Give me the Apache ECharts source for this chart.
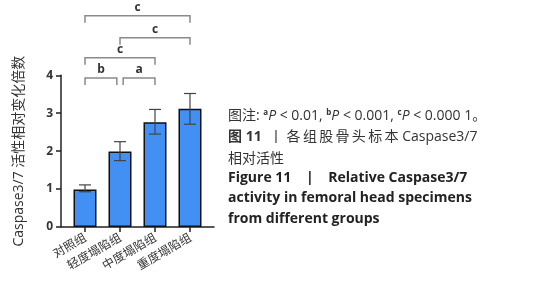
<!DOCTYPE html>
<html>
<head>
<meta charset="utf-8">
<script src="https://cdn.jsdelivr.net/npm/echarts@6/dist/echarts.min.js"></script>
<style>
  html, body { margin: 0; padding: 0; background: #fff; }
  #chart { width: 535px; height: 300px; }
</style>
</head>
<body>
<div id="chart"></div>
<script>
// groups and measured values
const categories = ["对照组", "轻度塌陷组", "中度塌陷组", "重度塌陷组"];
const positions = [1, 2, 3, 4];
const means = [0.99, 1.99, 2.76, 3.12];
const errLow = [0.93, 1.75, 2.45, 2.71];
const errHigh = [1.11, 2.25, 3.10, 3.52];

// significance brackets
const bracketFrom = [1, 2.09, 1, 2, 1];
const bracketTo = [1.91, 3, 3, 4, 4];
const bracketY = [3.93, 3.93, 4.46, 4.99, 5.57];
const bracketLabel = ["b", "a", "c", "c", "c"];

const chart = echarts.init(document.getElementById("chart"));

const axisColor = "#222";
const cjk = "'Noto Sans CJK SC', sans-serif";
const latin = "'Open Sans', 'Noto Sans CJK SC', sans-serif";
const thin = "\u2009";

const option = {
  animation: false,
  backgroundColor: "#fff",
  grid: { left: 61, right: 321, top: 75.3, bottom: 73 },
  xAxis: {
    type: "value",
    min: 0.314,
    max: 4.686,
    splitLine: { show: false },
    axisLine: { lineStyle: { color: axisColor, width: 1.5 } },
    axisTick: { customValues: positions, length: 5, lineStyle: { color: axisColor, width: 1.5 } },
    axisLabel: {
      customValues: positions,
      formatter: (v) => categories[Math.round(v) - 1] || "",
      rotate: 30,
      margin: 9,
      fontSize: 12,
      color: "#333",
      fontFamily: cjk,
    },
  },
  yAxis: {
    type: "value",
    min: 0,
    max: 4,
    interval: 1,
    name: "Caspase3/7 活性相对变化倍数",
    nameLocation: "middle",
    nameGap: 35,
    nameRotate: 90,
    nameTextStyle: { fontSize: 14, color: "#333", fontFamily: latin },
    splitLine: { show: false },
    axisLine: { show: true, lineStyle: { color: axisColor, width: 1.5 } },
    axisTick: { show: true, length: 5, lineStyle: { color: axisColor, width: 1.5 } },
    axisLabel: { fontSize: 12, fontWeight: "bold", color: "#333", margin: 8, fontFamily: latin },
  },
  series: [
    {
      type: "bar",
      data: positions.map((p, i) => [p, means[i]]),
      barWidth: 23,
      itemStyle: { color: "#4390f4", borderColor: "#111", borderWidth: 1.5 },
      z: 2,
    },
    {
      // error bars
      type: "custom",
      z: 3,
      data: positions.map((p, i) => [p, errLow[i], errHigh[i]]),
      renderItem: (params, api) => {
        const lo = api.coord([api.value(0), api.value(1)]);
        const hi = api.coord([api.value(0), api.value(2)]);
        const half = 6;
        const style = { stroke: "#444", lineWidth: 1.2 };
        return {
          type: "group",
          children: [
            { type: "line", shape: { x1: hi[0], y1: hi[1], x2: lo[0], y2: lo[1] }, style },
            { type: "line", shape: { x1: hi[0] - half, y1: hi[1], x2: hi[0] + half, y2: hi[1] }, style },
            { type: "line", shape: { x1: lo[0] - half, y1: lo[1], x2: lo[0] + half, y2: lo[1] }, style },
          ],
        };
      },
    },
    {
      // significance brackets
      type: "custom",
      clip: false,
      z: 3,
      data: bracketFrom.map((f, i) => [f, bracketTo[i], bracketY[i], bracketLabel[i]]),
      renderItem: (params, api) => {
        const a = api.coord([api.value(0), api.value(2)]);
        const b = api.coord([api.value(1), api.value(2)]);
        const drop = 7;
        const style = { stroke: "#8a8a8a", lineWidth: 1.5, fill: null };
        return {
          type: "group",
          children: [
            {
              type: "polyline",
              shape: { points: [[a[0], a[1] + drop], [a[0], a[1]], [b[0], b[1]], [b[0], b[1] + drop]] },
              style,
            },
            {
              type: "text",
              x: (a[0] + b[0]) / 2,
              y: a[1] - 2,
              style: {
                text: bracketLabel[params.dataIndex],
                fill: "#333",
                font: "bold 12px 'Open Sans', sans-serif",
                align: "center",
                verticalAlign: "bottom",
              },
            },
          ],
        };
      },
    },
  ],
  graphic: [
    {
      type: "text",
      left: 228,
      top: 109,
      style: {
        text: "图注: {sup|a}{it|P} < 0.01, {sup|b}{it|P} < 0.001, {sup|c}{it|P} < 0.000 1。",
        font: "14px " + latin,
        fill: "#333",
        rich: {
          sup: { fontSize: 8, verticalAlign: "top", padding: [0, 0, 7, 0], fontWeight: "bold", fontFamily: "'Open Sans'" },
          it: { fontStyle: "italic", fontSize: 14, fontFamily: "'Open Sans'" },
        },
      },
    },
    {
      type: "text",
      left: 228,
      top: 130,
      style: {
        text: "{b|图 11}  丨 " + "各组股骨头标本".split("").join(thin) + " Caspase3/7",
        font: "14px " + latin,
        fill: "#333",
        rich: { b: { fontWeight: "bold", fontSize: 14, fontFamily: latin } },
      },
    },
    {
      type: "text",
      left: 228,
      top: 151,
      style: { text: "相对活性", font: "14px " + cjk, fill: "#333" },
    },
    {
      type: "text",
      left: 228,
      top: 171,
      style: { text: "Figure 11    |    Relative Caspase3/7", font: "bold 14px " + latin, fill: "#222" },
    },
    {
      type: "text",
      left: 228,
      top: 191,
      style: { text: "activity in femoral head specimens", font: "bold 14px " + latin, fill: "#222" },
    },
    {
      type: "text",
      left: 228,
      top: 212,
      style: { text: "from different groups", font: "bold 14px " + latin, fill: "#222" },
    },
  ],
};

chart.setOption(option);
</script>
</body>
</html>
